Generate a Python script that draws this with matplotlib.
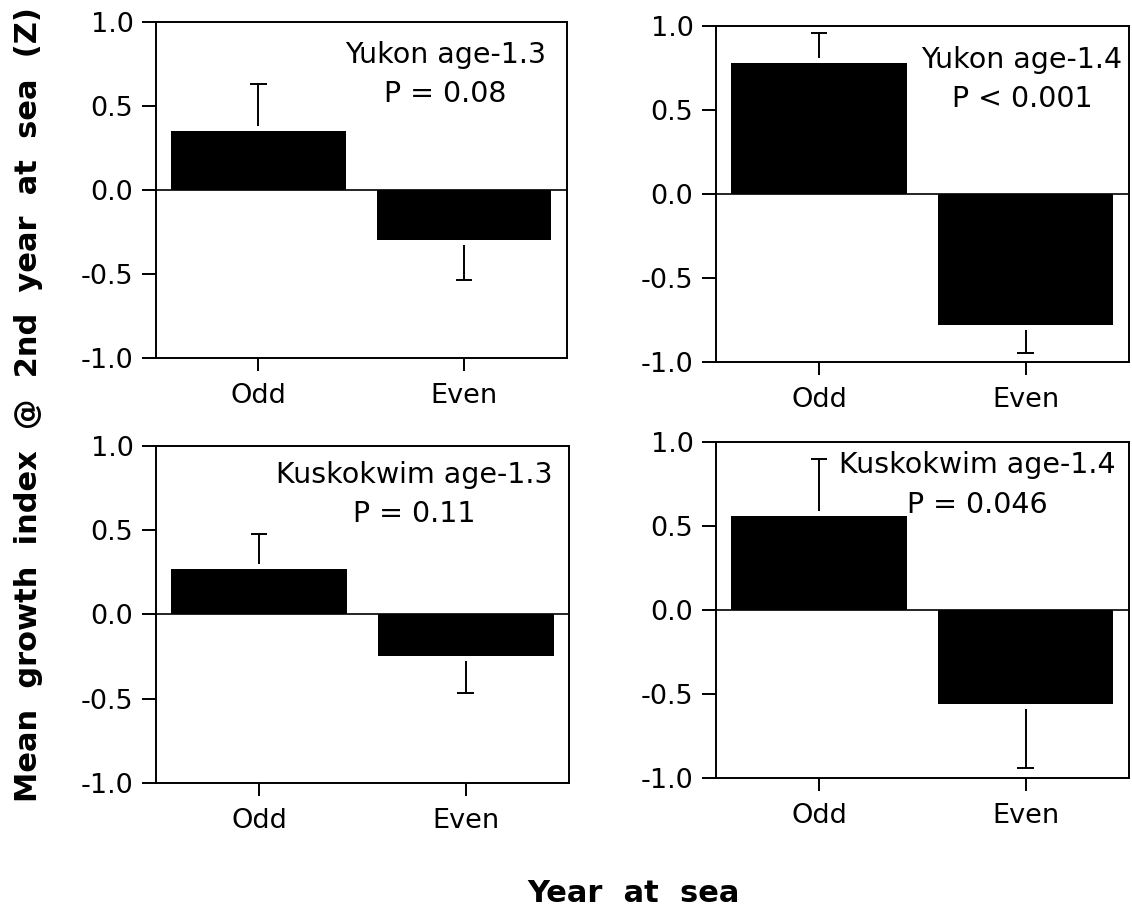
import matplotlib
matplotlib.use("Agg")
import matplotlib.pyplot as plt
import numpy as np

# groups on the x axis
groups = ["Odd", "Even"]

# mean growth index (Z) and one-sided standard errors per stock
yukon_13_mean = [0.35, -0.30]
yukon_13_err = [0.28, 0.24]
yukon_14_mean = [0.78, -0.78]
yukon_14_err = [0.18, 0.17]
kusko_13_mean = [0.27, -0.25]
kusko_13_err = [0.21, 0.22]
kusko_14_mean = [0.56, -0.56]
kusko_14_err = [0.34, 0.38]

titles = ["Yukon age-1.3", "Yukon age-1.4", "Kuskokwim age-1.3", "Kuskokwim age-1.4"]
p_labels = ["P = 0.08", "P < 0.001", "P = 0.11", "P = 0.046"]
y_ticks = [-1.0, -0.5, 0.0, 0.5, 1.0]

plt.rcParams['font.family'] = 'DejaVu Sans'

fig = plt.figure(figsize=(11.32, 9.09), dpi=100)

# [left, bottom, width, height] in figure fractions
boxes = [
    [0.1375, 0.6065, 0.3631, 0.3696],
    [0.6322, 0.6021, 0.3651, 0.3693],
    [0.1375, 0.1389, 0.3652, 0.3705],
    [0.6322, 0.1438, 0.3651, 0.3703],
]
# text anchor (axes fraction): x centre, baseline of line 1, baseline of line 2
text_pos = [
    (0.705, 0.876, 0.762),
    (0.741, 0.874, 0.760),
    (0.625, 0.889, 0.775),
    (0.633, 0.906, 0.789),
]

means = [yukon_13_mean, yukon_14_mean, kusko_13_mean, kusko_14_mean]
errs = [yukon_13_err, yukon_14_err, kusko_13_err, kusko_14_err]

cap_half = 0.04   # half cap width, x data units
gap = 0.03        # small white gap between bar end and whisker

for i in range(4):
    ax = fig.add_axes(boxes[i])
    x = np.arange(len(groups))
    m = np.array(means[i])
    e = np.array(errs[i])
    ax.bar(x, m, width=0.85, color='black', zorder=2)

    # whiskers point away from zero, cap only at the far end
    sign = np.sign(m)
    ends = m + sign * e
    ax.vlines(x, m + sign * gap, ends, color='black', lw=1.4, zorder=3)
    ax.hlines(ends, x - cap_half, x + cap_half, color='black', lw=1.4, zorder=3)

    ax.axhline(0, color='black', lw=1.2, zorder=1)

    ax.set_xlim(-0.5, 1.5)
    ax.set_ylim(-1.0, 1.0)
    ax.set_xticks(x)
    ax.set_xticklabels(groups)
    ax.set_yticks(y_ticks)
    ax.set_yticklabels([f"{t:.1f}" for t in y_ticks])
    ax.tick_params(axis='y', direction='out', length=10, width=1.4,
                   labelsize=19.5, pad=6)
    ax.tick_params(axis='x', direction='out', length=9, width=1.4,
                   labelsize=19.5, pad=9)
    for s in ax.spines.values():
        s.set_linewidth(1.4)

    tx, ty1, ty2 = text_pos[i]
    ax.text(tx, ty1, titles[i], transform=ax.transAxes, ha='center',
            va='baseline', fontsize=20.5)
    ax.text(tx, ty2, p_labels[i], transform=ax.transAxes, ha='center',
            va='baseline', fontsize=20.5)

fig.text(0.025, 0.555, "Mean  growth  index  @  2nd  year  at  sea  (Z)",
         rotation=90, ha='center', va='center', fontsize=22, fontweight='bold')
fig.text(0.560, 0.008, "Year  at  sea", ha='center', va='baseline',
         fontsize=22, fontweight='bold')

fig.savefig("out.png", dpi=100)
